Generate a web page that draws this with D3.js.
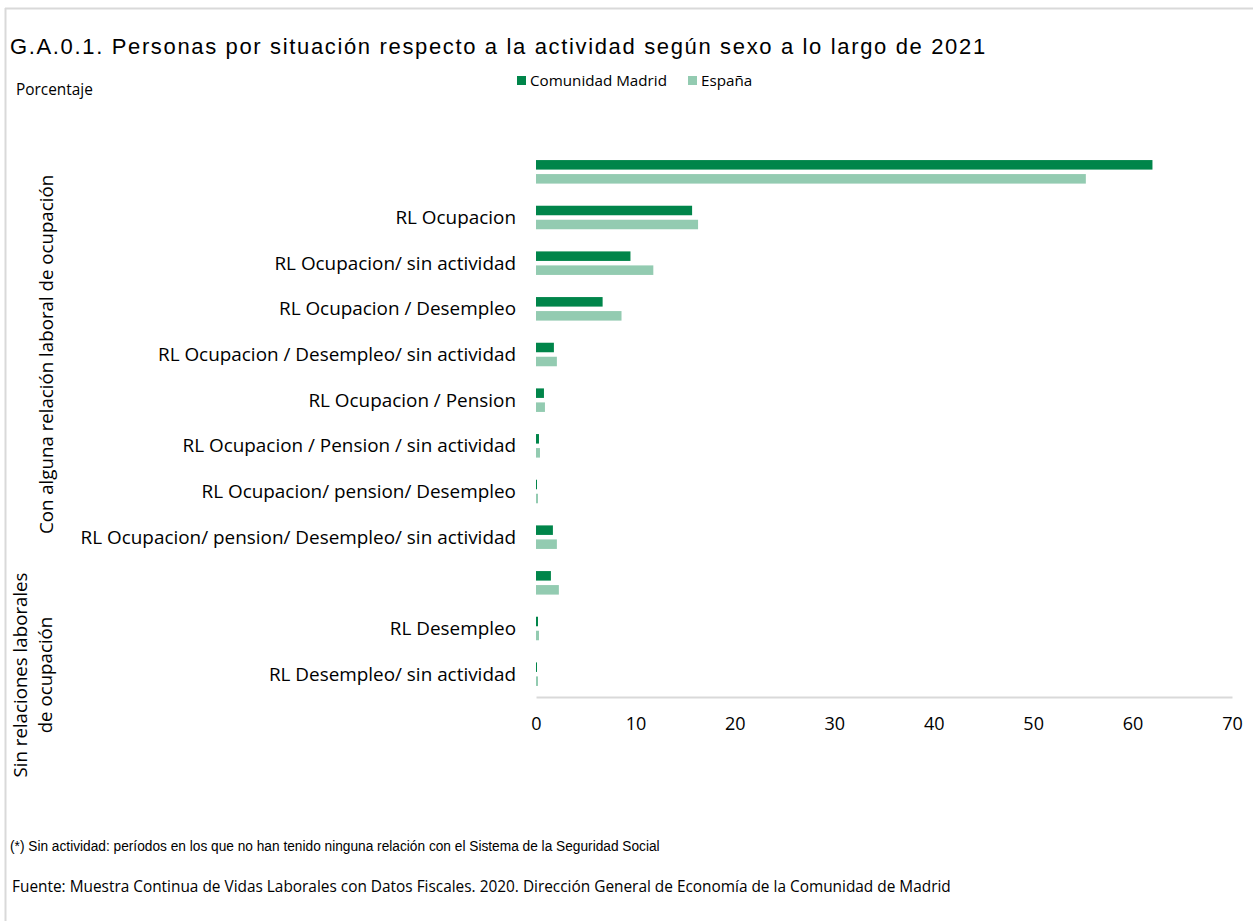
<!DOCTYPE html>
<html>
<head>
<meta charset="utf-8">
<script src="https://cdn.jsdelivr.net/npm/d3@7"></script>
<style>
  html, body { margin: 0; padding: 0; background: #fff; }
  svg { display: block; }
</style>
</head>
<body>
<div id="chart"></div>
<script>
// Categories from top to bottom; the two blank rows are the group totals.
const categories = [
  '',
  'RL Ocupacion',
  'RL Ocupacion/ sin actividad',
  'RL Ocupacion / Desempleo',
  'RL Ocupacion / Desempleo/ sin actividad',
  'RL Ocupacion / Pension',
  'RL Ocupacion / Pension / sin actividad',
  'RL Ocupacion/ pension/ Desempleo',
  'RL Ocupacion/ pension/ Desempleo/ sin actividad',
  ' ',
  'RL Desempleo',
  'RL Desempleo/ sin actividad'
];
const seriesNames = ['Comunidad Madrid', 'España'];
const madridValues = [62.0, 15.7, 9.5, 6.7, 1.8, 0.8, 0.3, 0.1, 1.7, 1.5, 0.2, 0.1];
const espanaValues = [55.3, 16.3, 11.8, 8.6, 2.1, 0.9, 0.4, 0.2, 2.1, 2.3, 0.3, 0.2];
const xTicks = [0, 10, 20, 30, 40, 50, 60, 70];
const groups = [
  { lines: ['Con alguna relación laboral de ocupación'], from: 0, to: 8 },
  { lines: ['Sin relaciones laborales', 'de ocupación'], from: 9, to: 11 }
];

const W = 1253, H = 921;
const colors = { 'Comunidad Madrid': '#00854a', 'España': '#93cbb1' };
const labelFont = '"Open Sans", Lato, sans-serif';

const svg = d3.select('#chart').append('svg').attr('width', W).attr('height', H);

// frame lines (top and left edges of the captured chart box)
svg.append('line').attr('x1', 5).attr('x2', W).attr('y1', 8.5).attr('y2', 8.5)
  .attr('stroke', '#d9d9d9').attr('stroke-width', 2);
svg.append('line').attr('x1', 5.5).attr('x2', 5.5).attr('y1', 8).attr('y2', H)
  .attr('stroke', '#d9d9d9').attr('stroke-width', 2);

// title
svg.append('text').attr('x', 10).attr('y', 54)
  .attr('font-family', '"Liberation Sans", Arial, sans-serif')
  .attr('font-size', 22).attr('letter-spacing', 1.65).attr('fill', '#000')
  .text('G.A.0.1. Personas por situación respecto a la actividad según sexo a lo largo de 2021');

svg.append('text').attr('x', 16).attr('y', 95)
  .attr('font-family', labelFont).attr('font-size', 15.4).attr('fill', '#000')
  .text('Porcentaje');

// legend
const legendX = [517, 688];
seriesNames.forEach((name, i) => {
  const g = svg.append('g').attr('transform', `translate(${legendX[i]},76)`);
  g.append('rect').attr('width', 9).attr('height', 9).attr('fill', colors[name]);
  g.append('text').attr('x', 13).attr('y', 10)
    .attr('font-family', labelFont).attr('font-size', 15.2).attr('fill', '#000')
    .text(name);
});

// scales
const x = d3.scaleLinear().domain([0, 70]).range([536, 1232]);
const y = d3.scaleBand().domain(d3.range(categories.length)).range([149, 697]).padding(0);
const ySub = d3.scaleBand().domain(seriesNames).range([0, y.bandwidth()])
  .paddingInner(0.32).paddingOuter(0.79);

// x axis
const xAxis = svg.append('g').attr('transform', 'translate(0,697)')
  .call(d3.axisBottom(x).tickValues(xTicks).tickSize(0).tickPadding(20));
xAxis.select('.domain').attr('stroke', '#d9d9d9').attr('stroke-width', 2);
xAxis.selectAll('text').attr('font-family', labelFont).attr('font-size', 18).attr('fill', '#000');

// bars
const series = [
  { name: 'Comunidad Madrid', values: madridValues },
  { name: 'España', values: espanaValues }
];
series.forEach((s) => {
  svg.append('g').selectAll('rect')
    .data(s.values)
    .join('rect')
    .attr('x', x(0))
    .attr('y', (_, i) => y(i) + ySub(s.name))
    .attr('width', (v) => x(v) - x(0))
    .attr('height', ySub.bandwidth())
    .attr('fill', colors[s.name]);
});

// category labels
svg.append('g').selectAll('text')
  .data(categories)
  .join('text')
  .attr('x', 516)
  .attr('y', (_, i) => y(i) + y.bandwidth() / 2)
  .attr('dy', '0.35em')
  .attr('text-anchor', 'end')
  .attr('font-family', labelFont).attr('font-size', 18.9).attr('fill', '#000')
  .text((d) => d.trim());

// group labels (rotated); the second one sits lower than its rows, as in Excel
const groupX = [47, 33];
const groupCenter = [(y(0) + y(8) + y.bandwidth()) / 2, 675];
groups.forEach((g, gi) => {
  const t = svg.append('text')
    .attr('transform', `translate(${groupX[gi]},${groupCenter[gi]}) rotate(-90)`)
    .attr('text-anchor', 'middle')
    .attr('font-family', labelFont).attr('font-size', 18.7).attr('fill', '#000');
  g.lines.forEach((line, li) => {
    t.append('tspan').attr('x', 0)
      .attr('dy', li === 0 ? (-(g.lines.length - 1) * 12.5 + 6) : 25)
      .text(line);
  });
});

// footnotes
svg.append('text').attr('transform', 'translate(10,851) scale(0.914,1)')
  .attr('font-family', '"Liberation Sans", Arial, sans-serif')
  .attr('font-size', 15).attr('fill', '#000')
  .text('(*) Sin actividad: períodos en los que no han tenido ninguna relación con el Sistema de la Seguridad Social');

svg.append('text').attr('x', 12).attr('y', 892)
  .attr('font-family', labelFont).attr('font-size', 15.4).attr('fill', '#000')
  .text('Fuente: Muestra Continua de Vidas Laborales con Datos Fiscales. 2020. Dirección General de Economía de la Comunidad de Madrid');
</script>
</body>
</html>
